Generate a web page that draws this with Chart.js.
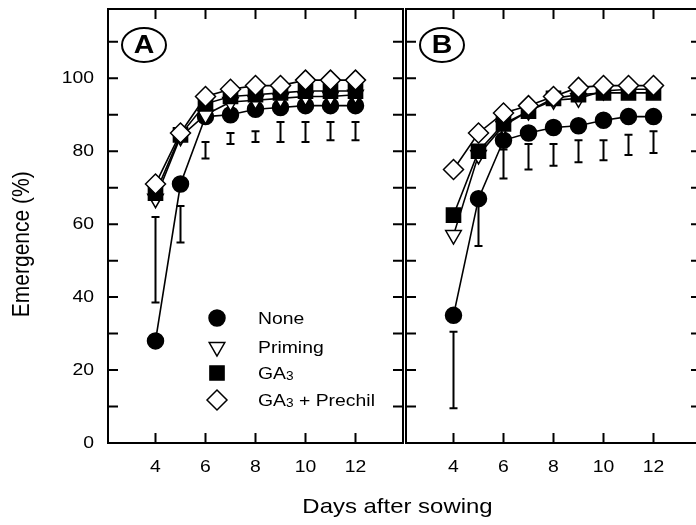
<!DOCTYPE html>
<html>
<head>
<meta charset="utf-8">
<script src="https://cdn.jsdelivr.net/npm/chart.js@4.4.0/dist/chart.umd.min.js"></script>
<style>
html, body { margin: 0; padding: 0; overflow: hidden; background: #fff; }
#wrap { position: relative; width: 696px; height: 525px; overflow: hidden; font-family: "Liberation Sans", Arial, sans-serif; }
#chartA { position: absolute; left: 0; top: 0; }
#chartB { position: absolute; left: 400px; top: 0; }
#xtitle { position: absolute; left: 0; width: 795px; top: 494px; line-height: 24px; text-align: center; font-size: 21px; color: #000; transform: scaleX(1.14); }
</style>
</head>
<body>
<div id="wrap">
  <canvas id="chartA" width="406" height="525"></canvas>
  <canvas id="chartB" width="310" height="525"></canvas>
  <div id="xtitle">Days after sowing</div>
</div>
<script>
const days = [4, 5, 6, 7, 8, 9, 10, 11, 12];
const xTicks = [4, 6, 8, 10, 12];
const yTicks = [0, 20, 40, 60, 80, 100];
const yMinor = [0, 10, 20, 30, 40, 50, 60, 70, 80, 90, 100, 110];

// panel A
const noneA = [28, 71, 89.5, 90, 91.5, 92, 92.5, 92.5, 92.5];
const primingA = [67, 84, 90, 93.5, 94, 94.5, 95, 95, 95.5];
const ga3A = [68.5, 84.5, 93, 95, 95.5, 96, 96.5, 96.5, 96.5];
const prechilA = [71, 85, 95, 97, 98, 98, 99.5, 99.5, 99.5];
const errLowA = [38.5, 55, 78, 82, 82.5, 82.5, 82.5, 83, 83];
const errHighA = [62, 65, 82.5, 85, 85.5, 88, 88, 88, 88];

// panel B
const noneB = [35, 67, 83, 85, 86.5, 87, 88.5, 89.5, 89.5];
const primingB = [57, 79, 87, 91, 94, 94.5, 96.5, 97, 97];
const ga3B = [62.5, 80, 87.5, 91, 94.5, 95.5, 96, 96, 96];
const prechilB = [75, 85, 90.5, 92.5, 95, 97.5, 98, 98, 98];
const errLowB = [9.5, 54, 72.5, 75, 76, 77, 77.5, 79, 79.5];
const errHighB = [30.5, 66, 80.5, 82, 82, 83, 83, 84.5, 85.5];

const FONT = "'Liberation Sans', Arial, sans-serif";
const STRETCH = 1.14; // text in the figure is a bit wide

const markers = {
    none: { pointStyle: 'circle', radius: 8, rotation: 0, fill: '#000' },
    priming: { pointStyle: 'triangle', radius: 9, rotation: 180, fill: '#fff' },
    ga3: { pointStyle: 'rect', radius: 10, rotation: 0, fill: '#000' },
    prechil: { pointStyle: 'rectRot', radius: 10, rotation: 0, fill: '#fff' }
};

function series(vals, m, order) {
    return {
        data: days.map((d, i) => ({ x: d, y: vals[i] })),
        borderColor: '#000',
        borderWidth: 1.6,
        tension: 0,
        pointStyle: m.pointStyle,
        pointRotation: m.rotation,
        pointRadius: m.radius,
        pointBackgroundColor: m.fill,
        pointBorderColor: '#000',
        pointBorderWidth: 1.5,
        order: order
    };
}

function wideText(ctx, text, x, y, font, align, baseline) {
    ctx.save();
    ctx.font = font;
    ctx.textAlign = align;
    ctx.textBaseline = baseline;
    ctx.translate(x, y);
    ctx.scale(STRETCH, 1);
    ctx.fillText(text, 0, 0);
    const w = ctx.measureText(text).width * STRETCH;
    ctx.restore();
    return w;
}

// frame, inward ticks and tick labels
const framePlugin = {
    id: 'frame',
    afterDraw(chart, args, opts) {
        const ctx = chart.ctx, a = chart.chartArea;
        const xs = chart.scales.x, ys = chart.scales.y;
        ctx.save();
        ctx.strokeStyle = '#000';
        ctx.fillStyle = '#000';
        ctx.lineWidth = 2;
        ctx.strokeRect(a.left, a.top, a.right - a.left, a.bottom - a.top);
        ctx.beginPath();
        yMinor.forEach(v => {
            const y = ys.getPixelForValue(v);
            ctx.moveTo(a.left, y); ctx.lineTo(a.left + 10, y);
            ctx.moveTo(a.right, y); ctx.lineTo(a.right - 10, y);
        });
        xTicks.forEach(v => {
            const x = xs.getPixelForValue(v);
            ctx.moveTo(x, a.bottom); ctx.lineTo(x, a.bottom - 10);
            ctx.moveTo(x, a.top); ctx.lineTo(x, a.top + 10);
        });
        ctx.stroke();
        xTicks.forEach(v => {
            wideText(ctx, String(v), xs.getPixelForValue(v), a.bottom + 29, '17px ' + FONT, 'center', 'alphabetic');
        });
        if (opts.yLabels) {
            yTicks.forEach(v => {
                wideText(ctx, String(v), a.left - 14, ys.getPixelForValue(v), '17px ' + FONT, 'right', 'middle');
            });
            ctx.save();
            ctx.translate(22, ys.getPixelForValue(54.5));
            ctx.scale(STRETCH, 1);
            ctx.rotate(-Math.PI / 2);
            ctx.font = '21px ' + FONT;
            ctx.textAlign = 'center';
            ctx.textBaseline = 'middle';
            ctx.fillText('Emergence (%)', 0, 0);
            ctx.restore();
        }
        ctx.restore();
    }
};

const errorPlugin = {
    id: 'errbars',
    beforeDatasetsDraw(chart, args, opts) {
        const ctx = chart.ctx, xs = chart.scales.x, ys = chart.scales.y;
        ctx.save();
        ctx.strokeStyle = '#000';
        ctx.lineWidth = 2;
        ctx.beginPath();
        days.forEach((d, i) => {
            const x = xs.getPixelForValue(d);
            const y1 = ys.getPixelForValue(opts.low[i]);
            const y2 = ys.getPixelForValue(opts.high[i]);
            ctx.moveTo(x, y1); ctx.lineTo(x, y2);
            ctx.moveTo(x - 4, y1); ctx.lineTo(x + 4, y1);
            ctx.moveTo(x - 4, y2); ctx.lineTo(x + 4, y2);
        });
        ctx.stroke();
        ctx.restore();
    }
};

const letterPlugin = {
    id: 'letter',
    afterDraw(chart, args, opts) {
        const ctx = chart.ctx, a = chart.chartArea;
        const cx = a.left + 36, cy = a.top + 36;
        ctx.save();
        ctx.strokeStyle = '#000';
        ctx.fillStyle = '#000';
        ctx.lineWidth = 2;
        ctx.beginPath();
        ctx.ellipse(cx, cy, 22, 17, 0, 0, Math.PI * 2);
        ctx.stroke();
        wideText(ctx, opts.text, cx, cy + 1, 'bold 25px ' + FONT, 'center', 'middle');
        ctx.restore();
    }
};

const legendItems = [
    { m: markers.none, text: 'None' },
    { m: markers.priming, text: 'Priming' },
    { m: markers.ga3, text: 'GA', sub: '3' },
    { m: markers.prechil, text: 'GA', sub: '3', rest: ' + Prechil' }
];

const legendPlugin = {
    id: 'boxLegend',
    afterDraw(chart) {
        const ctx = chart.ctx;
        const rows = [318, 347, 373, 400];
        ctx.save();
        legendItems.forEach((it, i) => {
            const y = rows[i];
            ctx.fillStyle = it.m.fill;
            ctx.strokeStyle = '#000';
            ctx.lineWidth = 1.5;
            Chart.helpers.drawPoint(ctx, {
                pointStyle: it.m.pointStyle, rotation: it.m.rotation,
                radius: it.m.radius, borderWidth: 1.5
            }, 217, y);
            ctx.fillStyle = '#000';
            let x = 258;
            const base = y + 6;
            x += wideText(ctx, it.text, x, base, '17px ' + FONT, 'left', 'alphabetic');
            if (it.sub) {
                x += wideText(ctx, it.sub, x, base + 1, '12px ' + FONT, 'left', 'alphabetic');
            }
            if (it.rest) {
                wideText(ctx, it.rest, x, base, '17px ' + FONT, 'left', 'alphabetic');
            }
        });
        ctx.restore();
    }
};

const scales = {
    x: { type: 'linear', min: 2.1, max: 13.9, display: false },
    y: { min: 0, max: 119, display: false }
};

const chartA = new Chart(document.getElementById('chartA'), {
    type: 'line',
    data: {
        datasets: [
            series(noneA, markers.none, 3),
            series(primingA, markers.priming, 2),
            series(ga3A, markers.ga3, 1),
            series(prechilA, markers.prechil, 0)
        ]
    },
    options: {
        responsive: false,
        animation: false,
        layout: { autoPadding: false, padding: { left: 108, top: 9, right: 3, bottom: 82 } },
        plugins: {
            legend: { display: false },
            tooltip: { enabled: false },
            errbars: { low: errLowA, high: errHighA },
            letter: { text: 'A' },
            frame: { yLabels: true }
        },
        scales: scales
    },
    plugins: [framePlugin, errorPlugin, letterPlugin, legendPlugin]
});

const chartB = new Chart(document.getElementById('chartB'), {
    type: 'line',
    data: {
        datasets: [
            series(noneB, markers.none, 3),
            series(primingB, markers.priming, 2),
            series(ga3B, markers.ga3, 1),
            series(prechilB, markers.prechil, 0)
        ]
    },
    options: {
        responsive: false,
        animation: false,
        layout: { autoPadding: false, padding: { left: 6, top: 9, right: 9, bottom: 82 } },
        plugins: {
            legend: { display: false },
            tooltip: { enabled: false },
            errbars: { low: errLowB, high: errHighB },
            letter: { text: 'B' },
            frame: { yLabels: false }
        },
        scales: scales
    },
    plugins: [framePlugin, errorPlugin, letterPlugin]
});
</script>
</body>
</html>
